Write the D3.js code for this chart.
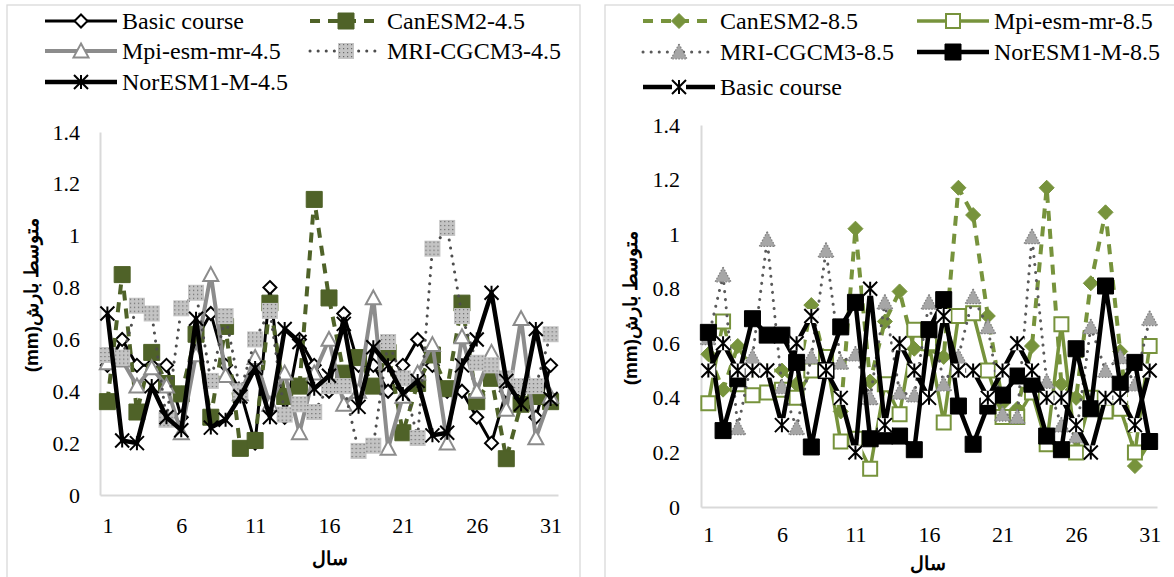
<!DOCTYPE html>
<html>
<head>
<meta charset="utf-8">
<script src="https://cdn.jsdelivr.net/npm/d3@7/dist/d3.min.js"></script>
</head>
<body style="margin:0;background:#fff">
<svg id="chart" width="1174" height="577"></svg>
<script>
  // data
  var years = d3.range(1, 32);
  var yTicks = [0, 0.2, 0.4, 0.6, 0.8, 1, 1.2, 1.4];
  var xTicks = [1, 6, 11, 16, 21, 26, 31];

  var basicCourse = [0.5,0.6,0.5,0.5,0.5,0.3,0.6,0.7,0.5,0.4,0.2,0.8,0.3,0.6,0.5,0.4,0.7,0.5,0.5,0.4,0.5,0.6,0.5,0.4,0.4,0.3,0.2,0.4,0.4,0.3,0.5];

  var canEsm45 = [0.36,0.85,0.32,0.55,0.43,0.39,0.62,0.30,0.65,0.18,0.21,0.74,0.38,0.42,1.14,0.76,0.47,0.53,0.42,0.55,0.24,0.43,0.54,0.41,0.74,0.36,0.45,0.14,0.35,0.38,0.36];
  var mpi45 = [0.51,0.52,0.42,0.49,0.42,0.24,0.54,0.85,0.46,0.39,0.53,0.35,0.47,0.24,0.47,0.60,0.35,0.40,0.76,0.18,0.38,0.47,0.58,0.20,0.61,0.40,0.55,0.33,0.68,0.22,0.38];
  var mri45 = [0.54,0.53,0.73,0.70,0.29,0.72,0.78,0.44,0.69,0.40,0.60,0.71,0.31,0.35,0.32,0.42,0.42,0.17,0.19,0.59,0.45,0.22,0.95,1.03,0.69,0.51,0.50,0.45,0.42,0.42,0.62];
  var nor45 = [0.70,0.21,0.20,0.42,0.30,0.25,0.68,0.26,0.29,0.38,0.49,0.30,0.64,0.59,0.41,0.46,0.66,0.34,0.57,0.50,0.39,0.44,0.23,0.24,0.50,0.60,0.78,0.44,0.35,0.64,0.37];

  var canEsm85 = [0.56,0.43,0.59,0.50,0.50,0.50,0.45,0.74,0.52,0.35,1.02,0.46,0.68,0.79,0.58,0.58,0.55,1.17,1.07,0.70,0.38,0.36,0.59,1.17,0.45,0.40,0.82,1.08,0.57,0.15,0.24];
  var mpi85 = [0.38,0.68,0.45,0.41,0.42,0.43,0.40,0.50,0.55,0.24,0.25,0.14,0.45,0.34,0.65,0.60,0.31,0.70,0.71,0.50,0.33,0.33,0.42,0.23,0.67,0.20,0.40,0.35,0.36,0.20,0.59];
  var mri85 = [0.62,0.85,0.29,0.55,0.98,0.44,0.29,0.55,0.94,0.53,0.56,0.40,0.75,0.42,0.41,0.75,0.45,0.55,0.77,0.66,0.34,0.33,0.99,0.46,0.30,0.26,0.66,0.50,0.55,0.45,0.69];
  var nor85 = [0.64,0.28,0.47,0.69,0.63,0.63,0.53,0.22,0.50,0.66,0.75,0.25,0.26,0.26,0.21,0.65,0.76,0.37,0.23,0.37,0.41,0.48,0.45,0.26,0.21,0.58,0.36,0.81,0.45,0.53,0.24];

  var yTitle = 'متوسط بارش(mm)';
  var xTitle = 'سال';

  var serif = '"Liberation Serif"';
  var arabic = '"Liberation Sans"';
  var svg = d3.select('#chart');

  // dotted fill used by the MRI-4.5 square markers
  var pat = svg.append('defs').append('pattern')
    .attr('id', 'mriPat').attr('patternUnits', 'userSpaceOnUse')
    .attr('width', 4).attr('height', 4);
  pat.append('rect').attr('width', 4).attr('height', 4).attr('fill', '#c4c4c4');
  pat.append('rect').attr('x', 1).attr('y', 1).attr('width', 1.2).attr('height', 1.2).attr('fill', '#6a6a6a');

  // series styles
  var styles = {
    basicL: {stroke: '#000', width: 3, marker: 'diamond', size: 6.5, fill: '#fff', mstroke: '#000', mwidth: 2},
    can45:  {stroke: '#4f6228', width: 4, dash: '10 8', marker: 'square', size: 8, fill: '#4f6228', mstroke: '#4f6228', mwidth: 1},
    mpi45:  {stroke: '#8c8c8c', width: 4, marker: 'triangle', size: 7.5, fill: '#fff', mstroke: '#8c8c8c', mwidth: 2},
    mri45:  {stroke: '#4d4d4d', width: 3, dash: '0.1 8', cap: 'round', marker: 'square', size: 8, fill: 'url(#mriPat)', mstroke: 'none', mwidth: 0},
    nor45:  {stroke: '#000', width: 4.5, marker: 'star', size: 7, fill: 'none', mstroke: '#000', mwidth: 2},
    can85:  {stroke: '#77933c', width: 4, dash: '10 8', marker: 'diamond', size: 7.5, fill: '#77933c', mstroke: '#77933c', mwidth: 1},
    mpi85:  {stroke: '#77933c', width: 3.5, marker: 'square', size: 7, fill: '#fff', mstroke: '#77933c', mwidth: 2},
    mri85:  {stroke: '#5a5a5a', width: 3, dash: '0.1 8', cap: 'round', marker: 'triangle', size: 8, fill: '#a6a6a6', mstroke: '#7f7f7f', mwidth: 1.2, mdash: '1.5 1.5'},
    nor85:  {stroke: '#000', width: 4.5, marker: 'square', size: 8, fill: '#000', mstroke: '#000', mwidth: 1},
    basicR: {stroke: '#000', width: 4.5, marker: 'star', size: 7, fill: '#fff', mstroke: '#000', mwidth: 2}
  };

  function markerPath(type, r) {
    if (type === 'diamond') return 'M0,' + -r + 'L' + r + ',0L0,' + r + 'L' + -r + ',0Z';
    if (type === 'triangle') return 'M0,' + -r + 'L' + r + ',' + r * 0.85 + 'L' + -r + ',' + r * 0.85 + 'Z';
    if (type === 'square') return 'M' + -r + ',' + -r + 'H' + r + 'V' + r + 'H' + -r + 'Z';
    // star = x with a vertical bar
    return 'M' + -r + ',' + -r + 'L' + r + ',' + r + 'M' + -r + ',' + r + 'L' + r + ',' + -r + 'M0,' + -r + 'V' + r;
  }

  function drawMarker(g, st) {
    if (st.marker === 'star' && st.fill !== 'none') {
      g.append('path').attr('d', markerPath('square', st.size)).attr('fill', st.fill);
    }
    g.append('path')
      .attr('d', markerPath(st.marker, st.size))
      .attr('fill', st.marker === 'star' ? 'none' : st.fill)
      .attr('stroke', st.mstroke)
      .attr('stroke-width', st.mwidth)
      .attr('stroke-dasharray', st.mdash || null);
  }

  function lineStyle(sel, st) {
    sel.attr('fill', 'none')
      .attr('stroke', st.stroke)
      .attr('stroke-width', st.width)
      .attr('stroke-dasharray', st.dash || null)
      .attr('stroke-linecap', st.cap || 'butt')
      .attr('stroke-linejoin', 'round');
  }

  function panel(cfg) {
    var g = svg.append('g');

    g.append('rect')
      .attr('x', cfg.box[0]).attr('y', cfg.box[1])
      .attr('width', cfg.box[2]).attr('height', cfg.box[3])
      .attr('fill', '#fff').attr('stroke', '#d9d9d9').attr('stroke-width', 1.3);

    var x = d3.scalePoint().domain(years).range([cfg.left, cfg.right]).padding(0.5);
    var y = d3.scaleLinear().domain([0, 1.4]).range([cfg.bottom, cfg.top]);

    var yAxis = g.append('g')
      .attr('transform', 'translate(' + cfg.left + ',0)')
      .call(d3.axisLeft(y).tickValues(yTicks).tickSize(0).tickPadding(cfg.yPad).tickFormat(d3.format('~g')));
    var xAxis = g.append('g')
      .attr('transform', 'translate(0,' + cfg.bottom + ')')
      .call(d3.axisBottom(x).tickValues(xTicks).tickSize(0).tickPadding(cfg.xPad));

    [yAxis, xAxis].forEach(function(a) {
      a.attr('font-family', null).attr('font-size', null);
      a.select('.domain').attr('stroke', '#d9d9d9').attr('stroke-width', 2);
      a.selectAll('text')
        .style('font-family', serif)
        .style('font-size', '22px')
        .attr('fill', '#000');
    });

    g.append('text')
      .attr('transform', 'translate(' + cfg.yTitle[0] + ',' + cfg.yTitle[1] + ') rotate(-90)')
      .attr('text-anchor', 'middle').attr('dy', '0.35em')
      .attr('direction', 'rtl')
      .style('font-family', arabic)
      .style('font-size', '19px').style('font-weight', 'bold')
      .text(yTitle);

    g.append('text')
      .attr('x', cfg.xTitle[0]).attr('y', cfg.xTitle[1])
      .attr('text-anchor', 'middle').attr('dy', '0.35em')
      .style('font-family', arabic)
      .style('font-size', '19px').style('font-weight', 'bold')
      .text(xTitle);

    var line = d3.line()
      .x(function(d, i) { return x(years[i]); })
      .y(function(d) { return y(d); });

    cfg.series.forEach(function(s) {
      var st = styles[s.style];
      var sg = g.append('g');
      sg.append('path').datum(s.values).attr('d', line).call(lineStyle, st);
      sg.selectAll('g.m').data(s.values).enter().append('g')
        .attr('class', 'm')
        .attr('transform', function(d, i) { return 'translate(' + x(years[i]) + ',' + y(d) + ')'; })
        .each(function() { drawMarker(d3.select(this), st); });
    });

    // legend, two columns
    cfg.series.forEach(function(s) {
      var st = styles[s.style];
      var pos = cfg.legendOrder[s.name];
      var lx = cfg.legendCols[pos[0]];
      var ly = cfg.legendRows[pos[1]];
      var lg = g.append('g').attr('transform', 'translate(' + lx + ',' + ly + ')');
      lg.append('path').attr('d', 'M0,0H72').call(lineStyle, st);
      drawMarker(lg.append('g').attr('transform', 'translate(36,0)'), st);
      lg.append('text')
        .attr('x', 77).attr('dy', '0.35em')
        .style('font-family', serif)
        .style('font-size', '24px')
        .text(s.name);
    });
  }

  panel({
    box: [7, 5, 573, 600],
    left: 100, right: 558, top: 132, bottom: 495,
    yPad: 20, xPad: 22,
    yTitle: [31, 295], xTitle: [330, 558],
    legendCols: [45, 310], legendRows: [21, 51, 82],
    legendOrder: {
      'Basic course': [0, 0], 'CanESM2-4.5': [1, 0],
      'Mpi-esm-mr-4.5': [0, 1], 'MRI-CGCM3-4.5': [1, 1],
      'NorESM1-M-4.5': [0, 2]
    },
    series: [
      {name: 'Basic course', values: basicCourse, style: 'basicL'},
      {name: 'CanESM2-4.5', values: canEsm45, style: 'can45'},
      {name: 'Mpi-esm-mr-4.5', values: mpi45, style: 'mpi45'},
      {name: 'MRI-CGCM3-4.5', values: mri45, style: 'mri45'},
      {name: 'NorESM1-M-4.5', values: nor45, style: 'nor45'}
    ]
  });

  panel({
    box: [605, 5, 600, 600],
    left: 701, right: 1157, top: 125, bottom: 507,
    yPad: 21, xPad: 19,
    yTitle: [630, 308], xTitle: [928, 563],
    legendCols: [643, 917], legendRows: [21, 52, 87],
    legendOrder: {
      'CanESM2-8.5': [0, 0], 'Mpi-esm-mr-8.5': [1, 0],
      'MRI-CGCM3-8.5': [0, 1], 'NorESM1-M-8.5': [1, 1],
      'Basic course': [0, 2]
    },
    series: [
      {name: 'CanESM2-8.5', values: canEsm85, style: 'can85'},
      {name: 'Mpi-esm-mr-8.5', values: mpi85, style: 'mpi85'},
      {name: 'MRI-CGCM3-8.5', values: mri85, style: 'mri85'},
      {name: 'NorESM1-M-8.5', values: nor85, style: 'nor85'},
      {name: 'Basic course', values: basicCourse, style: 'basicR'}
    ]
  });
</script>
</body>
</html>
